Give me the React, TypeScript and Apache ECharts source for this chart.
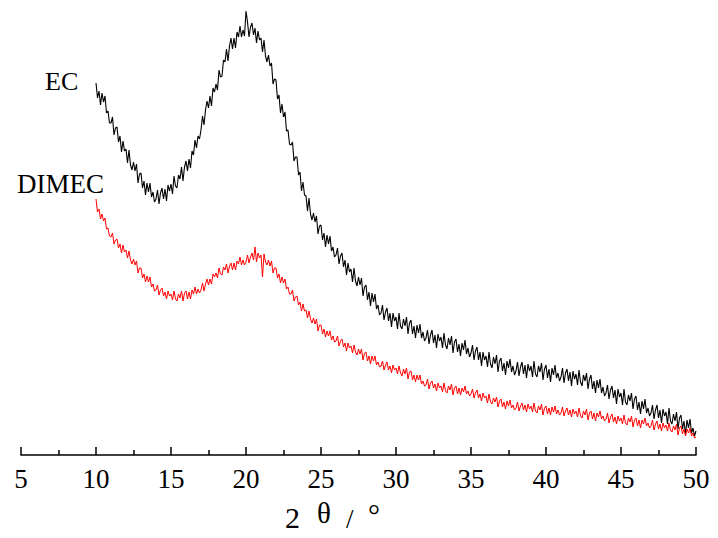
import React, { useEffect, useRef } from "react";
import * as echarts from "echarts";

// 2θ sampling of the measured patterns (degrees)
const X_START = 10;
const X_STEP = 0.1;

// Intensity (arbitrary units) of EC, 10.0° .. 50.0° every 0.1°
const EC_VALUES: number[] = [
  372, 357, 364, 350, 362, 353, 359, 342, 344, 332,
  332, 338, 320, 327, 328, 313, 319, 303, 314, 304,
  306, 292, 305, 290, 285, 293, 284, 291, 272, 281,
  282, 267, 274, 260, 272, 263, 272, 258, 263, 253,
  256, 265, 251, 262, 267, 256, 266, 254, 270, 264,
  271, 261, 279, 269, 267, 280, 276, 288, 274, 288,
  294, 284, 296, 287, 304, 300, 315, 307, 319, 316,
  325, 339, 330, 345, 354, 347, 359, 349, 367, 363,
  371, 365, 385, 378, 379, 395, 393, 406, 394, 409,
  417, 406, 417, 407, 423, 418, 429, 418, 425, 419,
  444, 433, 418, 428, 432, 420, 427, 412, 424, 415,
  417, 403, 415, 399, 393, 400, 389, 392, 371, 376,
  375, 356, 360, 342, 351, 338, 343, 324, 325, 311,
  310, 313, 294, 298, 298, 280, 283, 264, 273, 260,
  259, 244, 257, 241, 235, 242, 233, 239, 221, 229,
  230, 215, 222, 208, 220, 211, 219, 204, 208, 198,
  200, 207, 191, 199, 202, 188, 195, 180, 192, 183,
  186, 173, 187, 174, 169, 178, 170, 177, 159, 168,
  170, 155, 163, 149, 162, 153, 161, 146, 150, 140,
  142, 150, 135, 143, 147, 134, 142, 128, 142, 134,
  138, 126, 142, 129, 126, 136, 129, 138, 121, 132,
  135, 121, 129, 117, 130, 122, 131, 117, 123, 114,
  117, 125, 111, 120, 125, 112, 120, 107, 121, 114,
  118, 107, 122, 110, 106, 117, 110, 119, 102, 113,
  116, 103, 111, 99, 112, 105, 115, 101, 107, 98,
  102, 110, 95, 104, 108, 95, 103, 89, 103, 95,
  99, 88, 103, 91, 87, 98, 91, 100, 83, 94,
  97, 84, 92, 80, 94, 87, 96, 83, 89, 80,
  84, 93, 79, 88, 93, 81, 90, 77, 91, 84,
  89, 78, 94, 81, 78, 89, 83, 92, 75, 86,
  90, 77, 86, 73, 87, 80, 90, 77, 82, 74,
  78, 87, 72, 82, 86, 74, 83, 69, 84, 76,
  81, 70, 85, 73, 69, 80, 74, 82, 66, 76,
  80, 66, 74, 62, 75, 67, 76, 62, 68, 59,
  62, 70, 56, 65, 69, 57, 65, 51, 66, 58,
  62, 50, 66, 53, 50, 60, 54, 62, 46, 56,
  59, 45, 53, 41, 54, 46, 56, 42, 47, 39,
  42, 50, 36, 45, 50, 37, 45, 32, 46, 39,
  43, 31, 47, 34, 31, 41, 34, 43, 26, 37,
  40, 26, 34, 21, 35, 27, 36, 22, 27, 19,
  24,
];

// Intensity (arbitrary units) of DIMEC, 10.0° .. 50.0° every 0.1°
const DIMEC_VALUES: number[] = [
  256, 243, 246, 236, 241, 234, 237, 226, 227, 219,
  218, 222, 211, 215, 216, 207, 211, 202, 210, 203,
  205, 197, 204, 195, 191, 196, 190, 194, 182, 187,
  187, 177, 181, 173, 179, 173, 178, 168, 171, 164,
  165, 170, 160, 165, 167, 159, 163, 156, 164, 159,
  161, 155, 164, 156, 154, 161, 157, 164, 154, 162,
  164, 156, 163, 156, 165, 161, 168, 161, 166, 162,
  165, 172, 164, 171, 176, 170, 176, 171, 181, 178,
  182, 177, 187, 181, 180, 188, 185, 191, 182, 189,
  192, 185, 192, 185, 194, 191, 198, 190, 195, 190,
  193, 200, 192, 198, 202, 195, 208, 193, 202, 197,
  200, 178, 201, 193, 190, 195, 189, 194, 182, 187,
  187, 177, 181, 172, 178, 172, 176, 166, 168, 161,
  161, 165, 154, 158, 159, 150, 153, 144, 151, 144,
  145, 137, 144, 136, 132, 137, 131, 136, 124, 130,
  130, 121, 126, 118, 124, 119, 124, 115, 119, 113,
  114, 119, 109, 114, 116, 108, 112, 104, 112, 107,
  109, 102, 110, 103, 100, 106, 101, 106, 95, 102,
  103, 94, 99, 91, 99, 94, 99, 90, 93, 88,
  89, 94, 85, 90, 93, 85, 89, 82, 90, 85,
  87, 81, 89, 82, 79, 86, 81, 87, 76, 83,
  84, 75, 80, 73, 80, 75, 80, 71, 74, 69,
  70, 76, 66, 72, 74, 67, 71, 64, 72, 67,
  69, 63, 72, 64, 62, 69, 65, 71, 60, 67,
  69, 61, 67, 60, 67, 63, 69, 61, 64, 59,
  61, 66, 57, 62, 65, 57, 61, 54, 62, 57,
  59, 52, 61, 53, 51, 57, 53, 58, 48, 54,
  56, 48, 53, 46, 54, 49, 55, 47, 50, 45,
  47, 53, 44, 49, 52, 45, 50, 43, 51, 46,
  49, 43, 52, 44, 42, 49, 45, 51, 40, 47,
  49, 41, 47, 40, 48, 43, 49, 41, 45, 40,
  42, 48, 39, 44, 47, 40, 45, 38, 46, 41,
  44, 38, 47, 39, 37, 44, 40, 46, 35, 42,
  44, 36, 42, 34, 42, 38, 44, 36, 39, 34,
  36, 42, 32, 38, 41, 33, 38, 31, 39, 34,
  37, 31, 40, 32, 30, 37, 33, 39, 28, 35,
  37, 29, 35, 27, 35, 31, 37, 29, 32, 27,
  29, 35, 25, 31, 34, 26, 31, 24, 32, 27,
  30, 24, 32, 25, 23, 29, 25, 31, 20, 27,
  29, 21, 26, 19, 26, 22, 27, 19, 22, 17,
  18,
];

const SERIES_NAMES = ["EC", "DIMEC"];
const X_MIN = 5;
const X_MAX = 50;
const X_INTERVAL = 5;
// axis title pieces: "2 θ / °"
const AXIS_TITLE_PARTS = ["2", "θ", "/", "°"];

const FONT = "'Liberation Serif', 'Times New Roman', serif";

function toPairs(values: number[]): [number, number][] {
  return values.map((v, i) => [Math.round((X_START + i * X_STEP) * 10) / 10, v]);
}

export default function App() {
  const ref = useRef<HTMLDivElement>(null);

  useEffect(() => {
    if (!ref.current) return;
    const chart = echarts.init(ref.current, undefined, { renderer: "svg" });
    const titleText = (text: string, x: number, y: number, size: number) => ({
      type: "text",
      x,
      y,
      style: {
        text,
        font: `${size}px ${FONT}`,
        fill: "#000",
        verticalAlign: "middle",
        align: "left",
      },
    });
    chart.setOption({
      animation: false,
      backgroundColor: "#ffffff",
      grid: { left: 21, right: 22, top: 5, bottom: 83, containLabel: false },
      xAxis: {
        type: "value",
        min: X_MIN,
        max: X_MAX,
        interval: X_INTERVAL,
        axisLine: { show: true, lineStyle: { color: "#000", width: 1.5 } },
        axisTick: { show: true, inside: true, length: 8, lineStyle: { color: "#000", width: 1.5 } },
        minorTick: { show: true, splitNumber: 2, length: 5, lineStyle: { color: "#000", width: 1.5 } },
        splitLine: { show: false },
        axisLabel: { color: "#000", fontFamily: FONT, fontSize: 27, margin: 10 },
      },
      yAxis: {
        type: "value",
        min: 0,
        max: 450,
        show: false,
      },
      graphic: [
        titleText(SERIES_NAMES[0], 45, 81, 26),
        titleText(SERIES_NAMES[1], 17, 184, 27),
        titleText(AXIS_TITLE_PARTS[0], 285, 517, 30),
        titleText(AXIS_TITLE_PARTS[1], 317, 513, 29),
        titleText(AXIS_TITLE_PARTS[2], 346, 519, 27),
        titleText(AXIS_TITLE_PARTS[3], 368, 514, 30),
      ],
      series: [
        {
          name: SERIES_NAMES[0],
          type: "line",
          data: toPairs(EC_VALUES),
          showSymbol: false,
          lineStyle: { color: "#000000", width: 1.1 },
          silent: true,
        },
        {
          name: SERIES_NAMES[1],
          type: "line",
          data: toPairs(DIMEC_VALUES),
          showSymbol: false,
          lineStyle: { color: "#ff0000", width: 1 },
          silent: true,
        },
      ],
    });
    return () => chart.dispose();
  }, []);

  return <div ref={ref} style={{ width: 718, height: 538, position: "absolute", left: 0, top: 0 }} />;
}
